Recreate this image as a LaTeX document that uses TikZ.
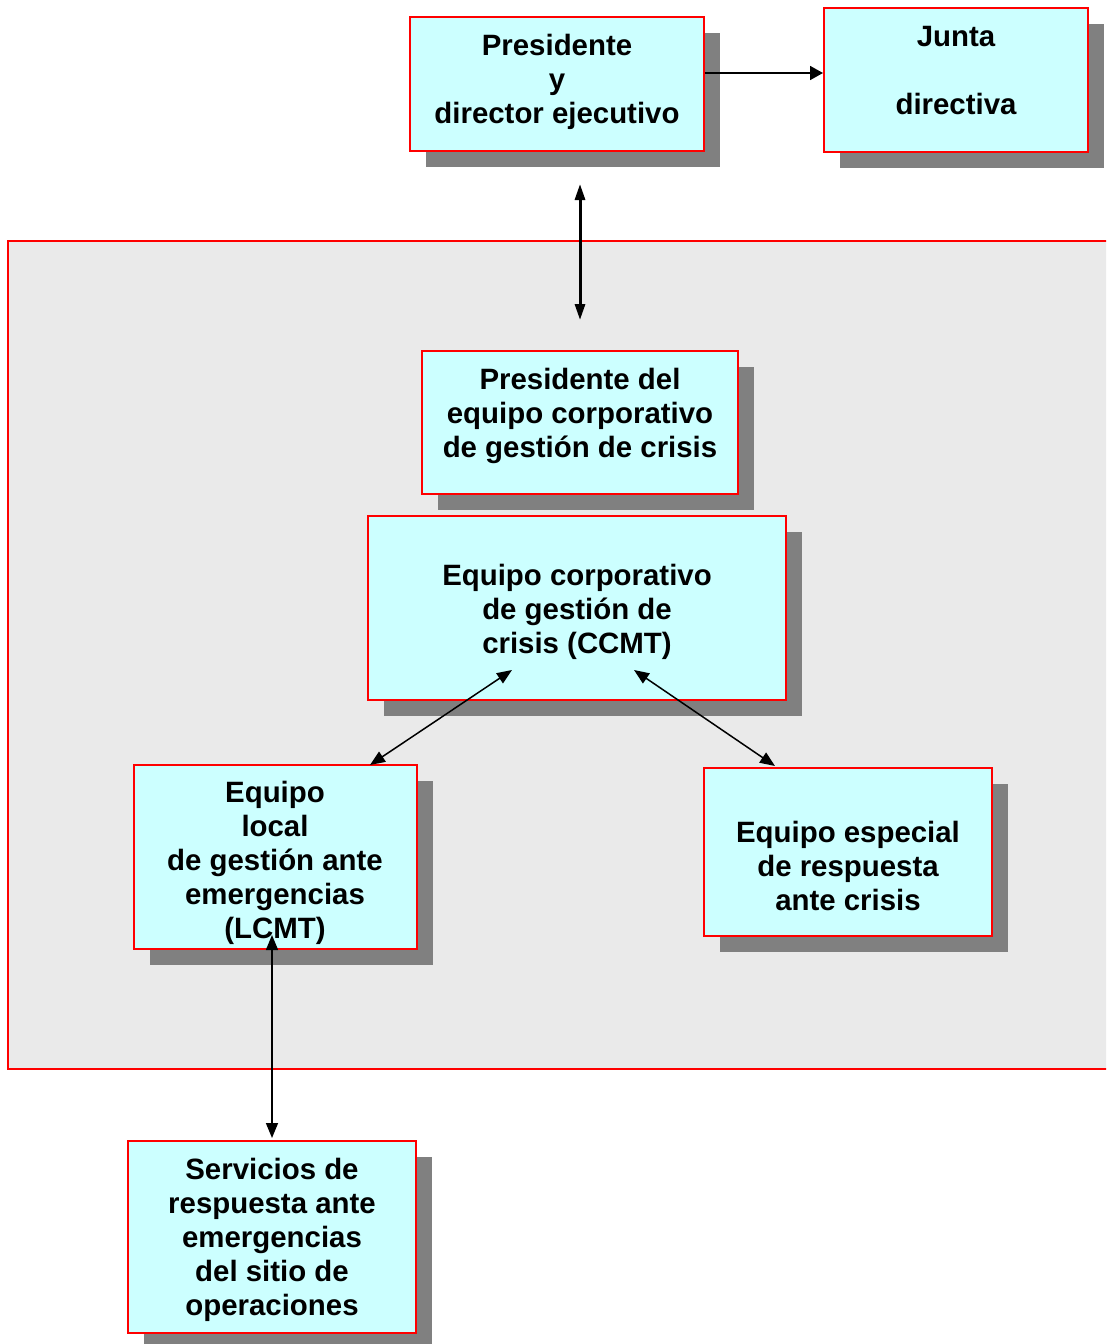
\documentclass[tikz,border=0pt]{standalone}
\usepackage{fontspec}
\setmainfont{Liberation Sans}
\usetikzlibrary{arrows.meta,shadows}
\definecolor{boxfill}{HTML}{CCFFFF}
\definecolor{panelgray}{HTML}{EAEAEA}
\definecolor{shadowgray}{HTML}{808080}
\begin{document}
\begin{tikzpicture}[x=1pt,y=-1pt,
  box/.style={draw=red, line width=2pt, fill=boxfill, rectangle, inner sep=0pt,
    drop shadow={shadow xshift=16pt, shadow yshift=-16pt, fill=shadowgray, opacity=1}},
  panelbox/.style={draw=red, line width=1.5pt, fill=panelgray, rectangle, inner sep=0pt},
  txt/.style={font=\fontsize{29.4}{34}\selectfont\bfseries, align=center, inner sep=0pt},
  onehead/.style={line width=1.8pt, -{Triangle[length=13pt,width=14pt]}},
  twohead/.style={line width=1.5pt, {Triangle[length=15pt,width=12pt]}-{Triangle[length=15pt,width=12pt]}},
  thickhead/.style={line width=3pt, {Triangle[length=16pt,width=10pt]}-{Triangle[length=16pt,width=10pt]}}
]
\clip (0,0) rectangle (1106,1344);
\fill[white] (0,0) rectangle (1106,1344);

% panel
\node[panelbox, minimum width=1107pt, minimum height=828pt] (panel) at (561.5,655) {};

% boxes
\node[box, minimum width=294pt, minimum height=134pt] (p1) at (557,84) {};
\node[box, minimum width=264pt, minimum height=144pt] (p2) at (956,80) {};
\node[box, minimum width=316pt, minimum height=143pt] (p3) at (580,422.5) {};
\node[box, minimum width=418pt, minimum height=184pt] (p4) at (577,608) {};
\node[box, minimum width=283pt, minimum height=184pt] (p5) at (275.5,857) {};
\node[box, minimum width=288pt, minimum height=168pt] (p6) at (848,852) {};
\node[box, minimum width=288pt, minimum height=192pt] (p7) at (272,1237) {};

% texts
\node[txt] (t1) at (557,82) {Presidente\\y\\director ejecutivo};
\node[txt] (t2) at (956,71) {Junta\\[34pt]directiva};
\node[txt] (t3) at (580,416) {Presidente del\\equipo corporativo\\de gestión de crisis};
\node[txt] (t4) at (577,612) {Equipo corporativo\\de gestión de\\crisis (CCMT)};
\node[txt] (t5) at (275,863) {Equipo\\local\\de gestión ante\\emergencias\\(LCMT)};
\node[txt] (t6) at (848,866) {Equipo especial\\de respuesta\\ante crisis};
\node[txt] (t7) at (272,1240) {Servicios de\\respuesta ante\\emergencias\\del sitio de\\operaciones};

% connector end points
\coordinate (c4a) at (512,670);
\coordinate (c5a) at (370,765);
\coordinate (c4b) at (634,670);
\coordinate (c6a) at (775,766);
\coordinate (c5b) at (272,935);
\coordinate (c7a) at (272,1138);

% connectors
\draw[onehead] ([yshift=11pt]p1.east) -- ([yshift=11pt]p1.east -| p2.west);
\draw[thickhead] ([xshift=23pt,yshift=-32pt]p1.south) -- ([yshift=30pt]p3.north);
\draw[twohead] (c4a) -- (c5a);
\draw[twohead] (c4b) -- (c6a);
\draw[twohead] (c5b) -- (c7a);
\end{tikzpicture}
\end{document}
